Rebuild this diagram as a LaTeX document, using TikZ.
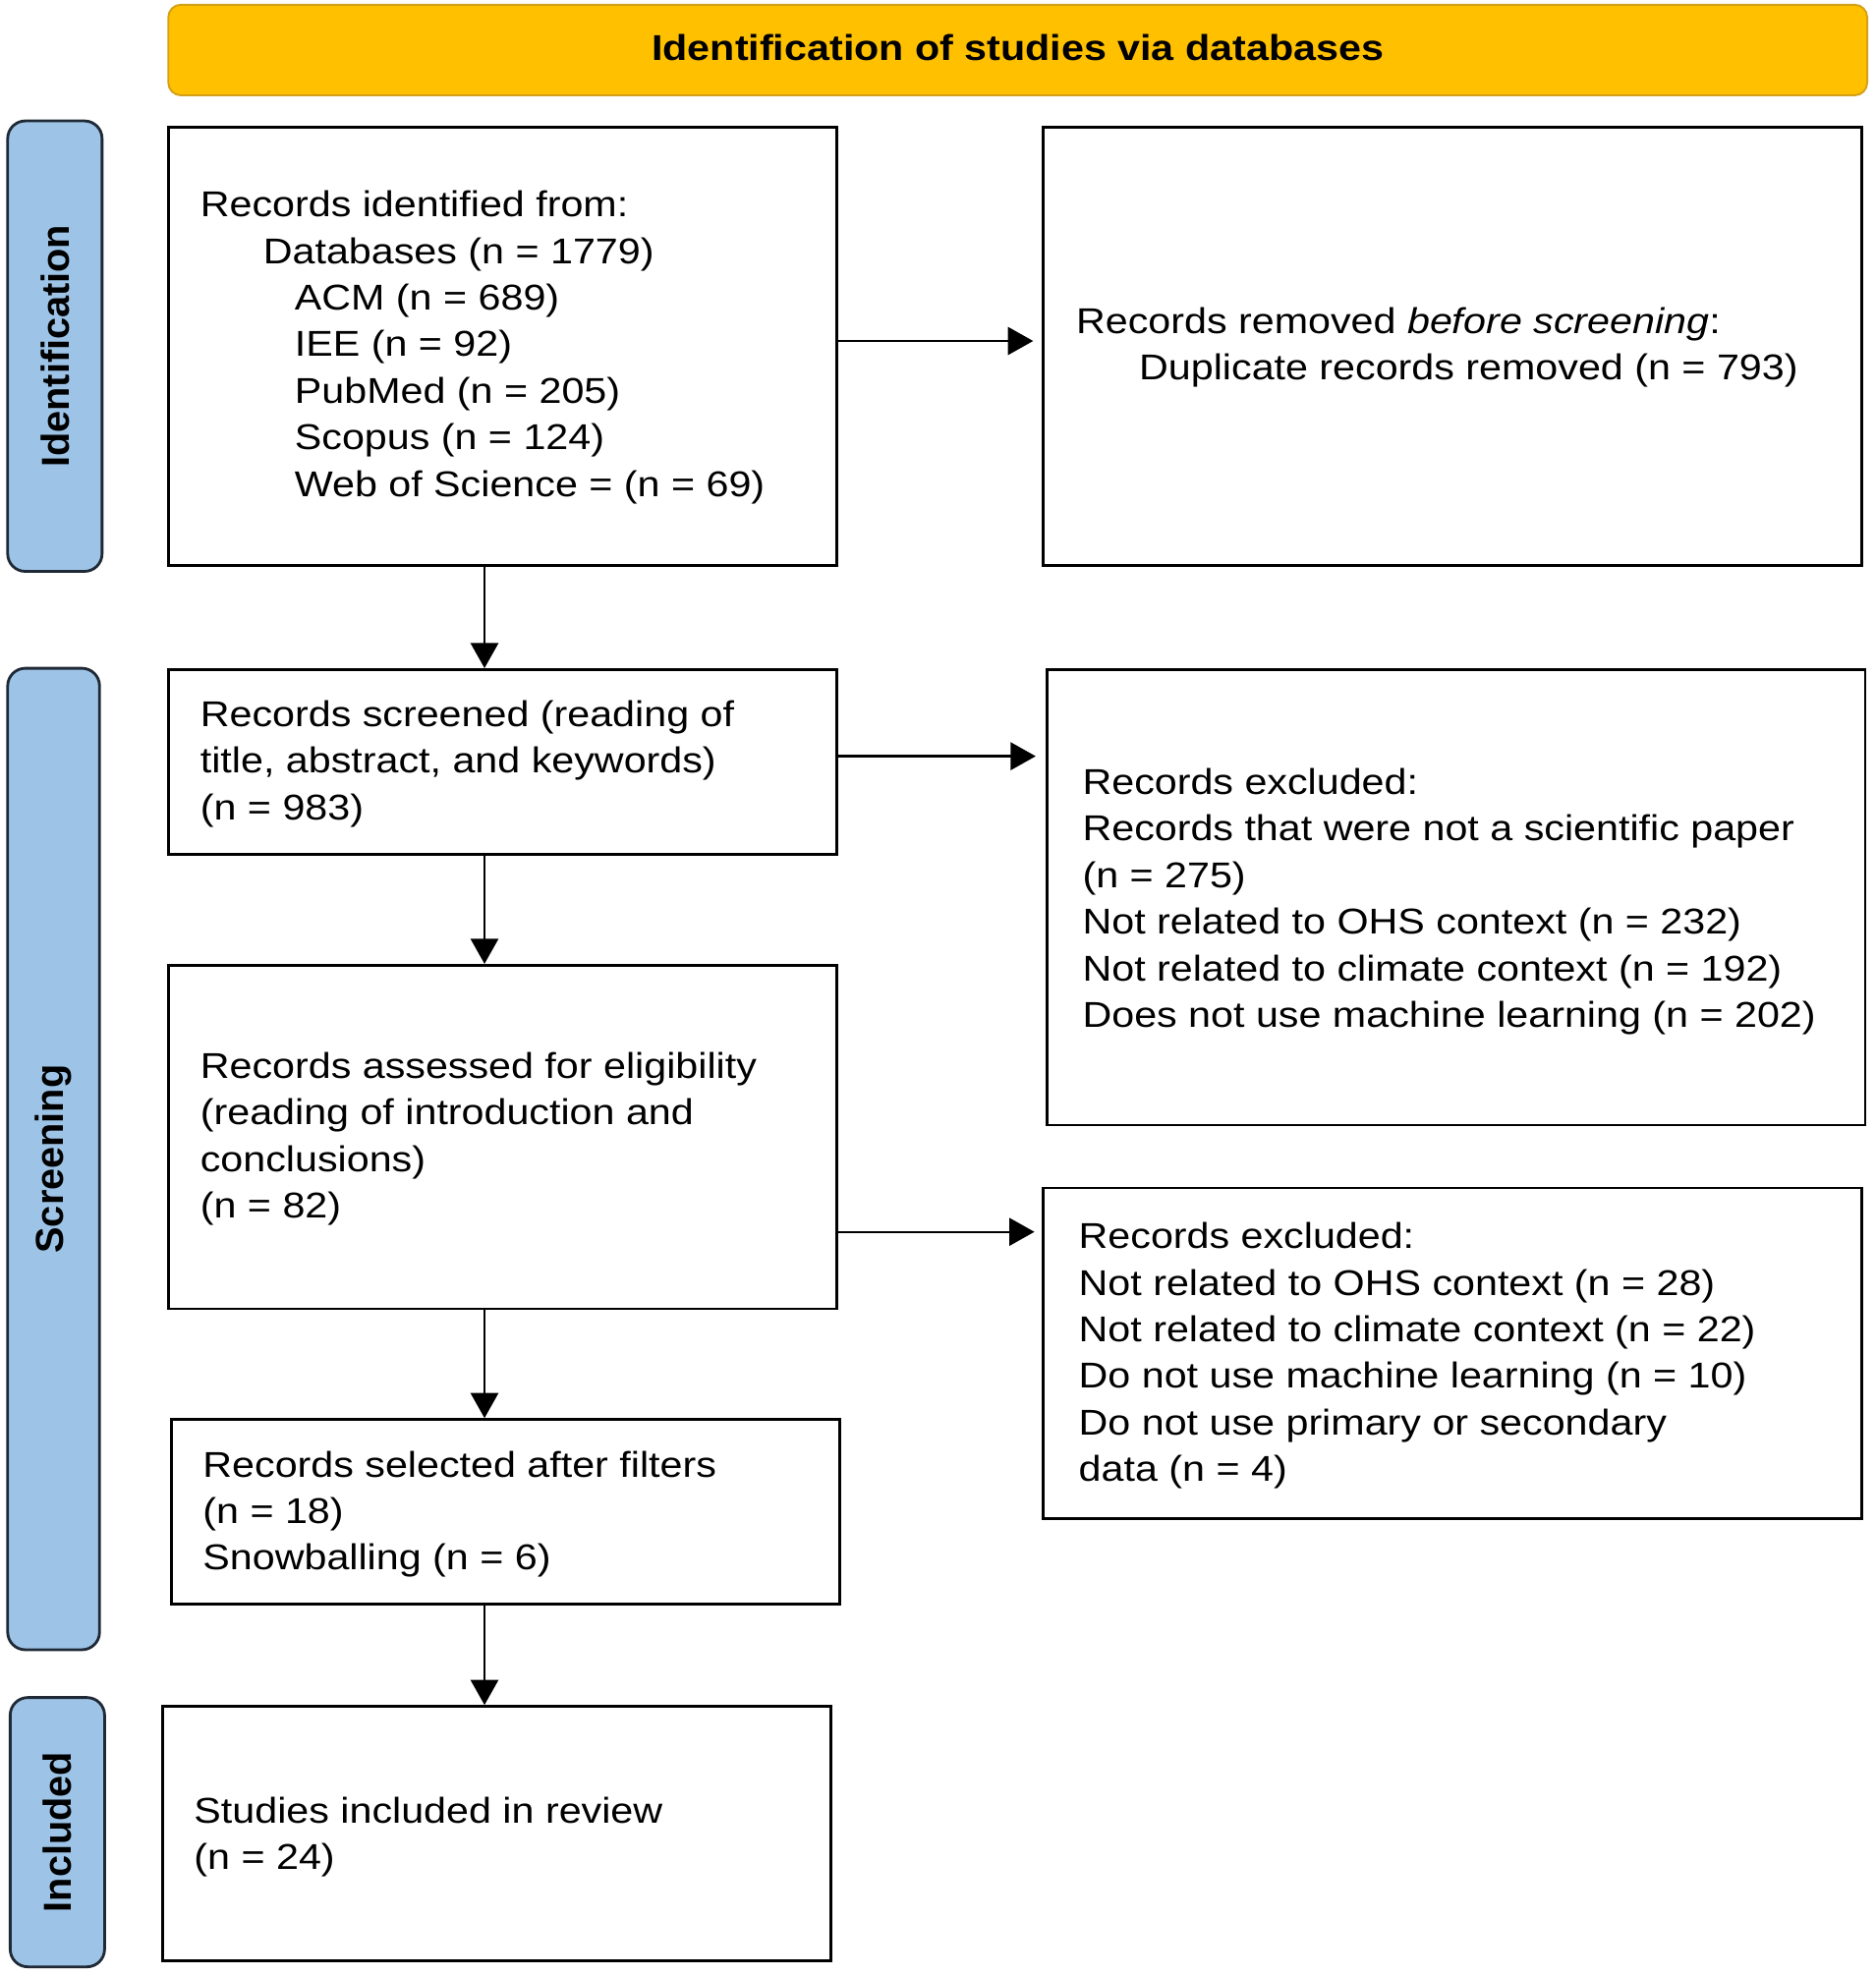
\documentclass[tikz,border=0pt]{standalone}
\usepackage{fontspec}
\setmainfont{Liberation Sans}[FakeStretch=1.13]
\newfontfamily\sidefont{Liberation Sans}
\usetikzlibrary{arrows.meta,calc}
\definecolor{hdr}{HTML}{FFC000}
\definecolor{hdrborder}{HTML}{D4A017}
\definecolor{side}{HTML}{9DC3E6}
\definecolor{sideborder}{HTML}{1F2A36}
\tikzset{
  box/.style={draw=black, line width=2.2pt, fill=white, inner sep=0pt, anchor=north west},
  sidebar/.style={draw=sideborder, line width=2.2pt, fill=side, rounded corners=14pt, inner sep=0pt, anchor=north west},
  txt/.style={anchor=west, inner sep=0pt, align=left, font=\fontsize{28.5}{37}\selectfont},
  sidetxt/.style={rotate=90, inner sep=0pt, font=\sidefont\fontsize{31}{36}\selectfont\bfseries},
  arr/.style={line width=1.8pt, -{Triangle[length=20pt,width=22pt]}}
}
\begin{document}
\begin{tikzpicture}[x=1pt,y=-1pt]
\useasboundingbox (0,0) rectangle (1490,1570.4);
% header
\node[draw=hdrborder, line width=1.5pt, fill=hdr, rounded corners=10pt, inner sep=0pt, anchor=north west, minimum width=1350pt, minimum height=72pt] (hdr) at (133,3) {};
\node[font=\fontsize{28.5}{34}\selectfont\bfseries, inner sep=0pt] (hdrtxt) at ($(hdr.center)+(0,-2)$) {Identification of studies via databases};
% side bars
\node[sidebar, minimum width=75pt, minimum height=358pt] (sb1) at (5,95) {};
\node[sidetxt] (sb1t) at (sb1.center) {Identification};
\node[sidebar, minimum width=73pt, minimum height=780pt] (sb2) at (5,530) {};
\node[sidetxt] (sb2t) at (sb2.center) {Screening};
\node[sidebar, minimum width=75pt, minimum height=214pt] (sb3) at (7,1348) {};
\node[sidetxt] (sb3t) at (sb3.center) {Included};
% boxes
\node[box, minimum width=531pt, minimum height=348pt] (b1) at (133,100) {};
\node[box, minimum width=650pt, minimum height=348pt] (b2) at (828,100) {};
\node[box, minimum width=531pt, minimum height=147pt] (b3) at (133,531) {};
\node[box, minimum width=650pt, minimum height=362pt] (b4) at (831,531) {};
\node[box, minimum width=531pt, minimum height=273pt] (b5) at (133,766) {};
\node[box, minimum width=650pt, minimum height=263pt] (b6) at (828,943) {};
\node[box, minimum width=531pt, minimum height=147pt] (b7) at (135,1127) {};
\node[box, minimum width=531pt, minimum height=202pt] (b8) at (128,1355) {};
% texts
\node[txt] (t1) at (159,276) {Records identified from:\\\hspace*{50pt}Databases (n = 1779)\\\hspace*{75pt}ACM (n = 689)\\\hspace*{75pt}IEE (n = 92)\\\hspace*{75pt}PubMed (n = 205)\\\hspace*{75pt}Scopus (n = 124)\\\hspace*{75pt}Web of Science = (n = 69)};
\node[txt] (t2) at (855,276) {Records removed \textit{before screening}:\\\hspace*{50pt}Duplicate records removed (n = 793)};
\node[txt] (t3) at (159,607) {Records screened (reading of\\title, abstract, and keywords)\\(n = 983)};
\node[txt] (t4) at (860,716.5) {Records excluded:\\Records that were not a scientific paper\\(n = 275)\\Not related to OHS context (n = 232)\\Not related to climate context (n = 192)\\Does not use machine learning (n = 202)};
\node[txt] (t5) at (159,905) {Records assessed for eligibility\\(reading of introduction and\\conclusions)\\(n = 82)};
\node[txt] (t6) at (857,1077.5) {Records excluded:\\Not related to OHS context (n = 28)\\Not related to climate context (n = 22)\\Do not use machine learning (n = 10)\\Do not use primary or secondary\\data (n = 4)};
\node[txt] (t7) at (161,1203.5) {Records selected after filters\\(n = 18)\\Snowballing (n = 6)};
\node[txt] (t8) at (154,1460) {Studies included in review\\(n = 24)};
% arrows
\draw[arr] (385,0 |- b1.south) -- (385,0 |- b3.north);
\draw[arr] (385,0 |- b3.south) -- (385,0 |- b5.north);
\draw[arr] (385,0 |- b5.south) -- (385,0 |- b7.north);
\draw[arr] (385,0 |- b7.south) -- (385,0 |- b8.north);
\draw[arr, shorten >=7pt] (b1.east |- 0,271) -- (b2.west |- 0,271);
\draw[arr, shorten >=8pt] (b3.east |- 0,601) -- (b4.west |- 0,601);
\draw[arr, shorten >=6pt] (b5.east |- 0,979) -- (b6.west |- 0,979);
\end{tikzpicture}
\end{document}
